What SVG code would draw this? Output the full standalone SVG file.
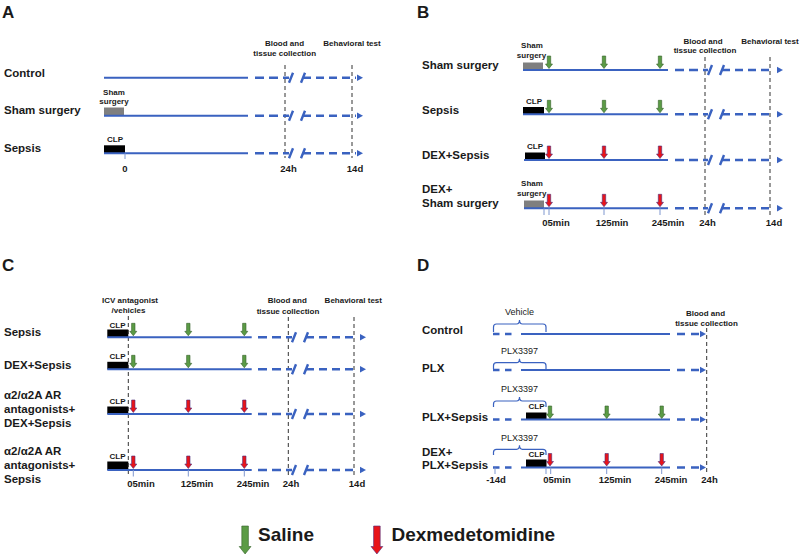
<svg xmlns="http://www.w3.org/2000/svg" xmlns:xlink="http://www.w3.org/1999/xlink" width="800" height="560" viewBox="0 0 800 560">
<style>
.t{font-family:"Liberation Sans",Arial,sans-serif;font-weight:bold;fill:#1a1a1a}
.row{font-size:11.5px}
.sm{font-size:8px}
.ax{font-size:9.5px}
.pl{font-size:17px}
.rg{font-weight:normal;font-size:9px}
.lg{font-size:19px}
.c{text-anchor:middle}
.sl{stroke:#3a62c0;stroke-width:2;fill:none}
.ds{stroke:#3a62c0;stroke-width:2.4;fill:none}
.ah{fill:#3a62c0}
.vd{stroke:#333;stroke-width:1;stroke-dasharray:4 3;fill:none}
.tk{stroke:#7f97cf;stroke-width:1}
.br{stroke:#3a62c0;stroke-width:1.2;fill:none}
.gray{fill:#7f7f7f}
.blk{fill:#000}
.g{fill:#5b9b45;stroke:#35612c;stroke-width:0.6}
.r{fill:#e8141a;stroke:#4b2d7a;stroke-width:0.6}
</style>
<defs>
<path id="arr" d="M-1.7,0 h3.4 v8 h1.8 l-3.5,4.5 l-3.5,-4.5 h1.8 z"/>
<g id="tailA">
<path class="ds" d="M255,0 H289" stroke-dasharray="9 5"/>
<path class="ds" d="M289,5 L293,-5 M301,5 L305,-5"/>
<path class="ds" d="M303,0 H356" stroke-dasharray="8 5"/>
<polygon class="ah" points="357,-3.2 363,0 357,3.2"/>
</g>
<g id="tailB">
<path class="ds" d="M675,0 H708" stroke-dasharray="9 5"/>
<path class="ds" d="M708,5 L712,-5 M720,5 L724,-5"/>
<path class="ds" d="M722,0 H773" stroke-dasharray="8 5"/>
<polygon class="ah" points="777,-3.2 783,0 777,3.2"/>
</g>
<g id="tailC">
<path class="ds" d="M258,0 H292" stroke-dasharray="9 5"/>
<path class="ds" d="M292,5 L296,-5 M304,5 L308,-5"/>
<path class="ds" d="M306,0 H358" stroke-dasharray="8 5"/>
<polygon class="ah" points="360,-3.2 366,0 360,3.2"/>
</g>
<g id="tailD">
<path class="ds" d="M677,0 H700" stroke-dasharray="8 6"/>
<polygon class="ah" points="700,-3.2 706,0 700,3.2"/>
</g>
</defs>
<rect width="800" height="560" fill="#fff"/>

<!-- Panel A -->
<g id="panelA">
<text class="t pl" x="2" y="18">A</text>
<text class="t sm c" x="284.5" y="46">Blood and</text>
<text class="t sm c" x="284.7" y="56">tissue collection</text>
<text class="t sm c" x="352" y="46">Behavioral test</text>
<g id="A-control"><text class="t row" x="4" y="77">Control</text></g>
<g id="A-sham"><text class="t row" x="4" y="114">Sham surgery</text>
<rect class="gray" x="104" y="107.5" width="20" height="8"/>
<text class="t sm c" x="114" y="95">Sham</text><text class="t sm c" x="114" y="103.5">surgery</text></g>
<g id="A-sepsis"><text class="t row" x="4" y="152">Sepsis</text>
<rect class="blk" x="104" y="145.3" width="21" height="8"/>
<text class="t sm c" x="115" y="142">CLP</text></g>
<text class="t ax c" x="125" y="171.5">0</text>
<text class="t ax c" x="288.5" y="171.5">24h</text>
<text class="t ax c" x="355" y="171.5">14d</text>
</g>

<!-- Panel B -->
<g id="panelB">
<text class="t pl" x="417" y="18">B</text>
<text class="t sm c" x="703" y="43.5">Blood and</text>
<text class="t sm c" x="705" y="53">tissue collection</text>
<text class="t sm c" x="770" y="43.5">Behavioral test</text>
<g id="B-sham"><text class="t row" x="422" y="68.5">Sham surgery</text>
<rect class="gray" x="523" y="62.5" width="20" height="7.5"/>
<text class="t sm c" x="532" y="48">Sham</text><text class="t sm c" x="531.5" y="57.5">surgery</text></g>
<g id="B-sepsis"><text class="t row" x="422" y="113.5">Sepsis</text>
<rect class="blk" x="523" y="107" width="21" height="7.3"/>
<text class="t sm c" x="534" y="103.5">CLP</text></g>
<g id="B-dexsepsis"><text class="t row" x="422" y="159">DEX+Sepsis</text>
<rect class="blk" x="525" y="152.5" width="20" height="7.5"/>
<text class="t sm c" x="535" y="149">CLP</text></g>
<g id="B-dexsham"><text class="t row" x="422" y="193">DEX+</text><text class="t row" x="422" y="207">Sham surgery</text>
<rect class="gray" x="524" y="200.5" width="20" height="7.8"/>
<text class="t sm c" x="532" y="186">Sham</text><text class="t sm c" x="531.7" y="196">surgery</text></g>
<text class="t ax c" x="556" y="226">05min</text>
<text class="t ax c" x="612" y="226">125min</text>
<text class="t ax c" x="668" y="226">245min</text>
<text class="t ax c" x="707.5" y="226">24h</text>
<text class="t ax c" x="774" y="226">14d</text>
</g>

<!-- Panel C -->
<g id="panelC">
<text class="t pl" x="2" y="271">C</text>
<text class="t sm c" x="130" y="303">ICV antagonist</text>
<text class="t sm c" x="128.5" y="313">/vehicles</text>
<text class="t sm c" x="287.3" y="303">Blood and</text>
<text class="t sm c" x="288" y="313.5">tissue collection</text>
<text class="t sm c" x="353.3" y="303">Behavioral test</text>
<g id="C-sepsis"><text class="t row" x="4" y="336">Sepsis</text>
<rect class="blk" x="107.3" y="329.5" width="21" height="7.8"/>
<text class="t sm c" x="117.5" y="327.5">CLP</text></g>
<g id="C-dexsepsis"><text class="t row" x="4" y="369">DEX+Sepsis</text>
<rect class="blk" x="107.3" y="361.8" width="21" height="7.5"/>
<text class="t sm c" x="117.5" y="359.3">CLP</text></g>
<g id="C-antdex"><text class="t row" x="4" y="398.5">α2/α2A AR</text><text class="t row" x="4" y="412.5">antagonists+</text><text class="t row" x="4" y="426.5">DEX+Sepsis</text>
<rect class="blk" x="107.3" y="406.5" width="21" height="7.5"/>
<text class="t sm c" x="117.5" y="404">CLP</text></g>
<g id="C-antsepsis"><text class="t row" x="4" y="455">α2/α2A AR</text><text class="t row" x="4" y="469">antagonists+</text><text class="t row" x="4" y="483">Sepsis</text>
<rect class="blk" x="107.3" y="461.5" width="21" height="8.5"/>
<text class="t sm c" x="117.5" y="458.7">CLP</text></g>
<text class="t ax c" x="141" y="487">05min</text>
<text class="t ax c" x="197" y="487">125min</text>
<text class="t ax c" x="253" y="487">245min</text>
<text class="t ax c" x="291" y="487">24h</text>
<text class="t ax c" x="357" y="487">14d</text>
</g>

<!-- Panel D -->
<g id="panelD">
<text class="t pl" x="417" y="271">D</text>
<text class="t sm c" x="705.5" y="316">Blood and</text>
<text class="t sm c" x="706.5" y="325.7">tissue collection</text>
<g id="D-control"><text class="t row" x="422" y="334">Control</text>
<text class="t rg c" x="519.5" y="315">Vehicle</text></g>
<g id="D-plx"><text class="t row" x="422" y="371.5">PLX</text>
<text class="t rg c" x="519.5" y="353.5">PLX3397</text></g>
<g id="D-plxsepsis"><text class="t row" x="422" y="420.5">PLX+Sepsis</text>
<text class="t rg c" x="519.5" y="391.5">PLX3397</text>
<rect class="blk" x="526" y="412.5" width="20.5" height="7"/>
<text class="t sm c" x="536.5" y="409">CLP</text></g>
<g id="D-dexplx"><text class="t row" x="422" y="455.5">DEX+</text><text class="t row" x="422" y="469">PLX+Sepsis</text>
<text class="t rg c" x="519.5" y="440.7">PLX3397</text>
<rect class="blk" x="526" y="459.5" width="20.5" height="8"/>
<text class="t sm c" x="536.5" y="456.7">CLP</text></g>
<text class="t ax c" x="496" y="482.5">-14d</text>
<text class="t ax c" x="557" y="482.5">05min</text>
<text class="t ax c" x="615" y="482.5">125min</text>
<text class="t ax c" x="671" y="482.5">245min</text>
<text class="t ax c" x="709.5" y="482.5">24h</text>
</g>

<!-- Connectors / timelines -->
<g id="connectors">
<!-- A -->
<path class="vd" d="M285,65 V158 M352,65 V158"/>
<path class="sl" d="M104,77.7 H248 M104,115.7 H248 M104,153.3 H248"/>
<use xlink:href="#tailA" y="77.7"/>
<use xlink:href="#tailA" y="115.7"/>
<use xlink:href="#tailA" y="153.3"/>
<path class="tk" d="M125,153.3 V159"/>
<!-- B -->
<path class="vd" d="M705,57 V215 M770,57 V215"/>
<path class="sl" d="M523,70 H668 M523,114.3 H668 M524,160 H668 M524,208.3 H668"/>
<use xlink:href="#tailB" y="70"/>
<use xlink:href="#tailB" y="114.3"/>
<use xlink:href="#tailB" y="160"/>
<use xlink:href="#tailB" y="208.3"/>
<path class="tk" d="M544,208.3 V215 M549,208.3 V215 M604,208.3 V215 M660,208.3 V215"/>
<use xlink:href="#arr" class="g" x="549" y="56"/>
<use xlink:href="#arr" class="g" x="604" y="56"/>
<use xlink:href="#arr" class="g" x="660" y="56"/>
<use xlink:href="#arr" class="g" x="549" y="100.3"/>
<use xlink:href="#arr" class="g" x="604" y="100.3"/>
<use xlink:href="#arr" class="g" x="660" y="100.3"/>
<use xlink:href="#arr" class="r" x="549" y="146"/>
<use xlink:href="#arr" class="r" x="604" y="146"/>
<use xlink:href="#arr" class="r" x="660" y="146"/>
<use xlink:href="#arr" class="r" x="549" y="194.3"/>
<use xlink:href="#arr" class="r" x="604" y="194.3"/>
<use xlink:href="#arr" class="r" x="660" y="194.3"/>
<!-- C -->
<path class="vd" d="M128.3,316 V477 M288.3,317 V477 M354,317 V477"/>
<path class="sl" d="M107.3,337.3 H251.7 M107.3,369.3 H251.7 M107.3,414 H251.7 M107.3,470 H251.7"/>
<use xlink:href="#tailC" y="337.3"/>
<use xlink:href="#tailC" y="369.3"/>
<use xlink:href="#tailC" y="414"/>
<use xlink:href="#tailC" y="470"/>
<path class="tk" d="M133.3,470 V476.5 M188.3,470 V476.5 M244.3,470 V476.5"/>
<use xlink:href="#arr" class="g" x="133.3" y="323.3"/>
<use xlink:href="#arr" class="g" x="188.3" y="323.3"/>
<use xlink:href="#arr" class="g" x="244.3" y="323.3"/>
<use xlink:href="#arr" class="g" x="133.3" y="355.3"/>
<use xlink:href="#arr" class="g" x="188.3" y="355.3"/>
<use xlink:href="#arr" class="g" x="244.3" y="355.3"/>
<use xlink:href="#arr" class="r" x="133.3" y="400"/>
<use xlink:href="#arr" class="r" x="188.3" y="400"/>
<use xlink:href="#arr" class="r" x="244.3" y="400"/>
<use xlink:href="#arr" class="r" x="133.3" y="456"/>
<use xlink:href="#arr" class="r" x="188.3" y="456"/>
<use xlink:href="#arr" class="r" x="244.3" y="456"/>
<!-- D -->
<path class="vd" d="M706.7,328 V473"/>
<path class="ds" d="M493,334 H514 M493,370 H514 M493,419.5 H514 M493,467.5 H514" stroke-dasharray="6.5 5.5"/>
<path class="sl" d="M521,334 H670 M521,370 H670 M521,419.5 H670 M521,467.5 H670"/>
<use xlink:href="#tailD" y="334"/>
<use xlink:href="#tailD" y="370"/>
<use xlink:href="#tailD" y="419.5"/>
<use xlink:href="#tailD" y="467.5"/>
<path class="br" d="M493.5,332 V327 Q493.5,324 496.5,324 H516.5 Q519.5,324 519.5,320 Q519.5,324 522.5,324 H543 Q546,324 546,327 V332"/>
<path class="br" d="M493.5,369 V365.7 Q493.5,362.7 496.5,362.7 H516.5 Q519.5,362.7 519.5,358.7 Q519.5,362.7 522.5,362.7 H543 Q546,362.7 546,365.7 V369"/>
<path class="br" d="M493.5,407 V404 Q493.5,401 496.5,401 H516.5 Q519.5,401 519.5,397 Q519.5,401 522.5,401 H543 Q546,401 546,404 V407"/>
<path class="br" d="M493.5,455 V452.3 Q493.5,449.3 496.5,449.3 H516.5 Q519.5,449.3 519.5,445.3 Q519.5,449.3 522.5,449.3 H543 Q546,449.3 546,452.3 V455"/>
<path class="tk" d="M495,467.5 V474 M546,467.5 V474 M550.7,467.5 V474 M606.7,467.5 V474 M661.7,467.5 V474"/>
<use xlink:href="#arr" class="g" x="550" y="406"/>
<use xlink:href="#arr" class="g" x="606.7" y="406"/>
<use xlink:href="#arr" class="g" x="661.7" y="406"/>
<use xlink:href="#arr" class="r" x="550" y="453.5"/>
<use xlink:href="#arr" class="r" x="606.7" y="453.5"/>
<use xlink:href="#arr" class="r" x="661.7" y="453.5"/>
</g>

<!-- Legend -->
<g id="legend">
<path class="g" d="M241.8,526 h6.6 v20.5 h2.6 l-5.9,7.5 l-5.9,-7.5 h2.6 z"/>
<text class="t lg" x="258" y="541">Saline</text>
<path class="r" d="M373.6,526 h6.6 v20.5 h2.6 l-5.9,7.5 l-5.9,-7.5 h2.6 z"/>
<text class="t lg" x="391.5" y="541">Dexmedetomidine</text>
</g>
</svg>
